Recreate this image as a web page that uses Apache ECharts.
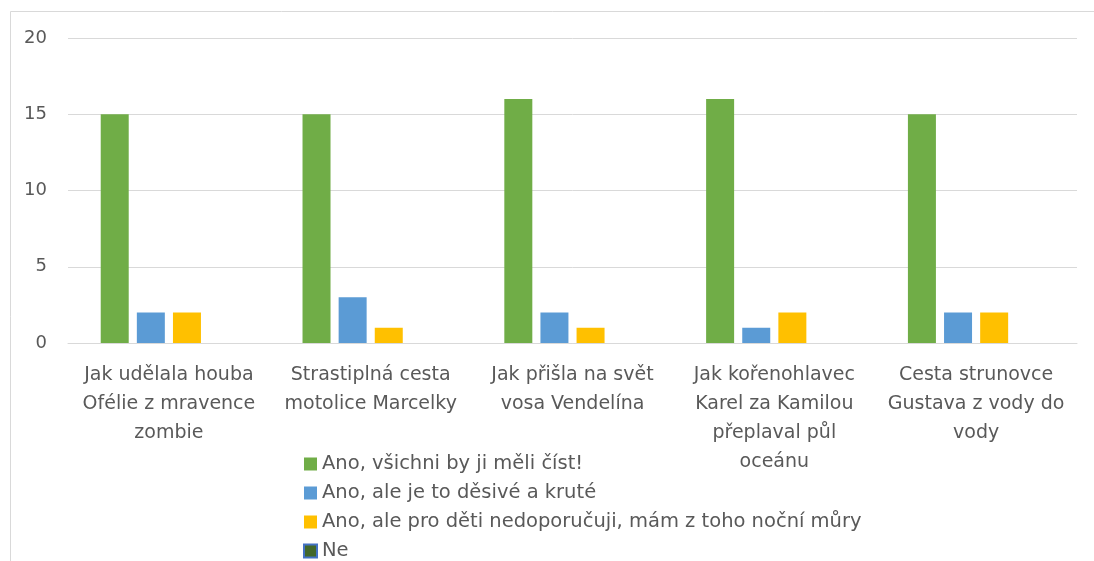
<!DOCTYPE html>
<html>
<head>
<meta charset="utf-8">
<script src="https://cdn.jsdelivr.net/npm/echarts@6/dist/echarts.min.js"></script>
<style>
html,body{margin:0;padding:0;background:#fff;overflow:hidden;}
#c{width:1094px;height:620px;}
</style>
</head>
<body>
<div id="c"></div>
<script>
const categories = [
  "Jak udělala houba\nOfélie z mravence\nzombie",
  "Strastiplná cesta\nmotolice Marcelky",
  "Jak přišla na svět\nvosa Vendelína",
  "Jak kořenohlavec\nKarel za Kamilou\npřeplaval půl\noceánu",
  "Cesta strunovce\nGustava z vody do\nvody"
];
const seriesNames = [
  "Ano, všichni by ji měli číst!",
  "Ano, ale je to děsivé a kruté",
  "Ano, ale pro děti nedoporučuji, mám z toho noční můry",
  "Ne"
];
const valuesAll = [15, 15, 16, 16, 15];
const valuesScary = [2, 3, 2, 1, 2];
const valuesNotKids = [2, 1, 1, 2, 2];
const valuesNo = [0, 0, 0, 0, 0];
const yTicks = [0, 5, 10, 15, 20];

const FONT = "'DejaVu Sans', 'Open Sans', sans-serif";
const TXT = '#595959';
const colors = ['#70AD47', '#5B9BD5', '#FFC000', '#43682B'];
const data = [valuesAll, valuesScary, valuesNotKids, valuesNo];

const chart = echarts.init(document.getElementById('c'), null, {renderer: 'canvas'});
chart.setOption({
  animation: false,
  backgroundColor: '#fff',
  textStyle: {fontFamily: FONT, color: TXT},
  graphic: [{
    type: 'rect', z: -1,
    shape: {x: 10.5, y: 11.5, width: 1200, height: 700},
    style: {fill: 'none', stroke: '#d9d9d9', lineWidth: 1}
  }],
  grid: {left: 68, right: 17, top: 38, height: 305, containLabel: false},
  legend: {
    orient: 'vertical',
    left: 303, top: 452,
    height: 160,
    padding: 0,
    itemWidth: 13, itemHeight: 13, itemGap: 5,
    icon: 'rect',
    textStyle: {fontFamily: FONT, fontSize: 19.5, color: TXT, lineHeight: 24},
    data: seriesNames.map((n, i) => i === 3
      ? {name: n, itemStyle: {color: colors[3], borderColor: '#4472C4', borderWidth: 2}}
      : {name: n})
  },
  xAxis: {
    type: 'category',
    data: categories,
    axisLine: {show: true, lineStyle: {color: '#d9d9d9', width: 1}},
    axisTick: {show: false},
    axisLabel: {fontFamily: FONT, fontSize: 19, color: TXT, lineHeight: 29, margin: 18, interval: 0}
  },
  yAxis: {
    type: 'value',
    min: yTicks[0], max: yTicks[yTicks.length - 1], interval: 5,
    axisLine: {show: false},
    axisTick: {show: false},
    splitLine: {lineStyle: {color: '#d9d9d9', width: 1}},
    axisLabel: {fontFamily: FONT, fontSize: 18, color: TXT, margin: 21}
  },
  series: seriesNames.map((n, i) => ({
    name: n,
    type: 'bar',
    data: data[i],
    barWidth: 28,
    barGap: '29%',
    itemStyle: {color: colors[i], borderWidth: 0}
  }))
});
</script>
</body>
</html>
